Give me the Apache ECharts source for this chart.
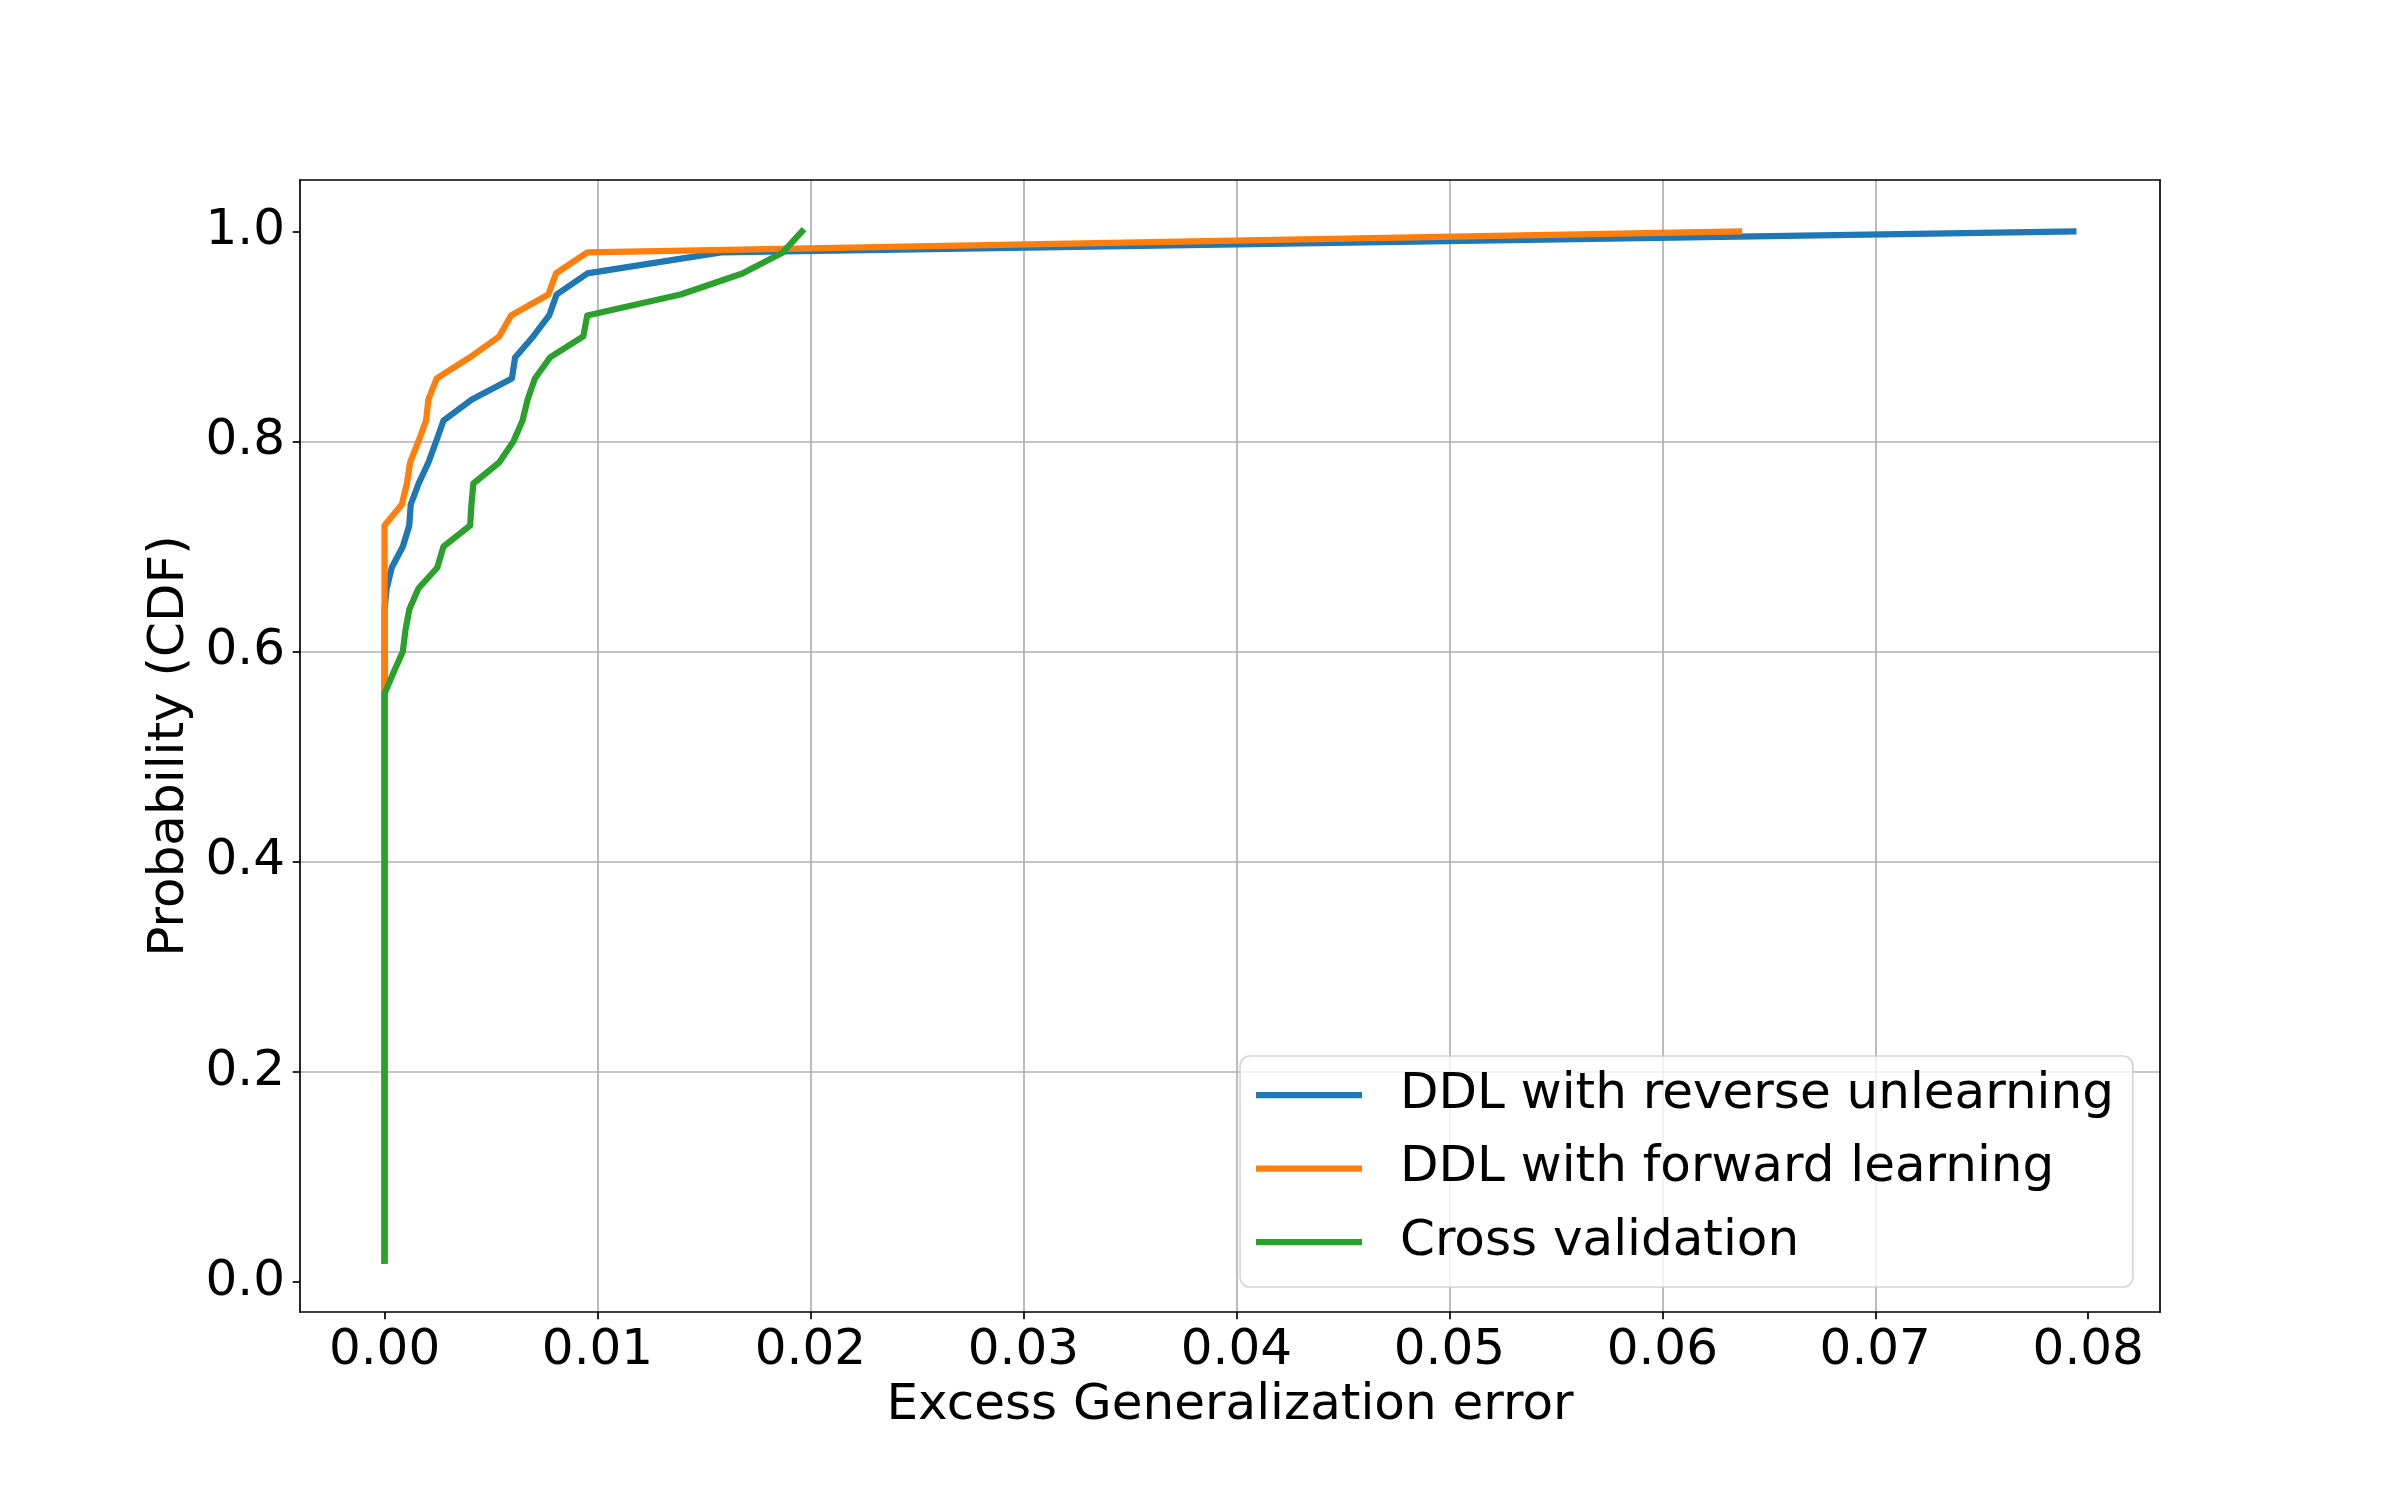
<!DOCTYPE html>
<html>
<head>
<meta charset="utf-8">
<script src="https://cdn.jsdelivr.net/npm/echarts@6/dist/echarts.min.js"></script>
<style>
html,body{margin:0;padding:0;background:#fff;}
#chart{width:2400px;height:1500px;}
</style>
</head>
<body>
<div id="chart"></div>
<script>
// ---- data ----
const seriesNames = ['DDL with reverse unlearning', 'DDL with forward learning', 'Cross validation'];
const seriesColors = ['#1f77b4', '#ff7f0e', '#2ca02c'];

const blueX = [0, 0, 0.0001, 0.00034, 0.00086, 0.00116, 0.00123, 0.0016, 0.00206, 0.00242, 0.00277, 0.0041, 0.00598, 0.00613, 0.00698, 0.00773, 0.00808, 0.00952, 0.0158, 0.0793];
const blueY = [0.02, 0.64, 0.66, 0.68, 0.70, 0.72, 0.74, 0.76, 0.78, 0.80, 0.82, 0.84, 0.86, 0.88, 0.90, 0.92, 0.94, 0.96, 0.98, 1.00];

const orangeX = [0, 0, 0.00081, 0.00105, 0.0012, 0.00159, 0.00195, 0.00206, 0.00245, 0.0040, 0.00538, 0.00594, 0.00769, 0.00805, 0.00952, 0.0636];
const orangeY = [0.02, 0.72, 0.74, 0.76, 0.78, 0.80, 0.82, 0.84, 0.86, 0.88, 0.90, 0.92, 0.94, 0.96, 0.98, 1.00];

const greenX = [0, 0, 0.00042, 0.00086, 0.00098, 0.00116, 0.00159, 0.00248, 0.00277, 0.00402, 0.00408, 0.00417, 0.00538, 0.00605, 0.00648, 0.00672, 0.00706, 0.00777, 0.00933, 0.00952, 0.0139, 0.0168, 0.0187, 0.0196];
const greenY = [0.02, 0.56, 0.58, 0.60, 0.62, 0.64, 0.66, 0.68, 0.70, 0.72, 0.74, 0.76, 0.78, 0.80, 0.82, 0.84, 0.86, 0.88, 0.90, 0.92, 0.94, 0.96, 0.98, 1.00];

const xTicks = [0, 0.01, 0.02, 0.03, 0.04, 0.05, 0.06, 0.07, 0.08];
const yTicks = [0, 0.2, 0.4, 0.6, 0.8, 1.0];
const xRange = [-0.00397, 0.08337];
const yRange = [-0.029, 1.049];

// ---- chart ----
const FONT = 'DejaVu Sans';
const FS = 50;
const LW = 6.25;
const zip = (xs, ys) => xs.map((x, i) => [x, ys[i]]);
const seriesData = [zip(blueX, blueY), zip(orangeX, orangeY), zip(greenX, greenY)];

const chart = echarts.init(document.getElementById('chart'), null, {renderer: 'canvas'});

const frameAxis = (pos, range) => ({
  type: 'value', position: pos, min: range[0], max: range[1],
  axisLine: {show: true, onZero: false, lineStyle: {color: '#000', width: 1.7}},
  axisTick: {show: false}, axisLabel: {show: false}, splitLine: {show: false}
});

const legendIcon = 'path://M0,0 L106,0 L106,' + LW + ' L0,' + LW + ' Z';

chart.setOption({
  animation: false,
  backgroundColor: '#fff',
  textStyle: {fontFamily: FONT},
  grid: {left: 300, right: 240, top: 180, bottom: 188, containLabel: false, outerBoundsMode: 'none'},
  legend: {
    orient: 'vertical',
    left: 1240, top: 1056,
    padding: [14, 19, 20, 16],
    itemWidth: 106, itemHeight: 50, itemGap: 23.5,
    icon: legendIcon,
    symbolKeepAspect: true,
    backgroundColor: 'rgba(255,255,255,0.8)',
    borderColor: 'rgba(204,204,204,0.8)', borderWidth: 1.7, borderRadius: 10,
    textStyle: {fontFamily: FONT, fontSize: FS, color: '#000', lineHeight: 50, padding: [0, 0, 0, 33]},
    data: seriesNames
  },
  xAxis: [{
    type: 'value', position: 'bottom', min: xRange[0], max: xRange[1],
    name: 'Excess Generalization error', nameLocation: 'middle', nameGap: 67,
    nameTextStyle: {fontFamily: FONT, fontSize: FS, color: '#000'},
    axisLine: {show: true, onZero: false, lineStyle: {color: '#000', width: 1.7}},
    axisTick: {show: true, inside: false, length: 7.3, lineStyle: {color: '#000', width: 1.7}, customValues: xTicks},
    axisLabel: {show: true, margin: 14, fontFamily: FONT, fontSize: FS, color: '#000',
      customValues: xTicks, formatter: v => v.toFixed(2)},
    splitLine: {show: true, showMinLine: false, showMaxLine: false, lineStyle: {color: '#b0b0b0', width: 1.7}}
  }, frameAxis('top', xRange)],
  yAxis: [{
    type: 'value', position: 'left', min: yRange[0], max: yRange[1],
    name: 'Probability (CDF)', nameLocation: 'middle', nameGap: 104,
    nameTextStyle: {fontFamily: FONT, fontSize: FS, color: '#000'},
    axisLine: {show: true, onZero: false, lineStyle: {color: '#000', width: 1.7}},
    axisTick: {show: true, inside: false, length: 7.3, lineStyle: {color: '#000', width: 1.7}, customValues: yTicks},
    axisLabel: {show: true, margin: 15, fontFamily: FONT, fontSize: FS, color: '#000',
      customValues: yTicks, formatter: v => v.toFixed(1)},
    splitLine: {show: true, showMinLine: false, showMaxLine: false, lineStyle: {color: '#b0b0b0', width: 1.7}}
  }, frameAxis('right', yRange)],
  series: seriesNames.map((name, i) => ({
    name: name,
    type: 'line',
    xAxisIndex: 0, yAxisIndex: 0,
    data: seriesData[i],
    symbol: 'none',
    smooth: false,
    color: seriesColors[i],
    itemStyle: {color: seriesColors[i]},
    lineStyle: {color: seriesColors[i], width: LW, join: 'round', cap: 'square'},
    emphasis: {disabled: true}
  }))
});
</script>
</body>
</html>
